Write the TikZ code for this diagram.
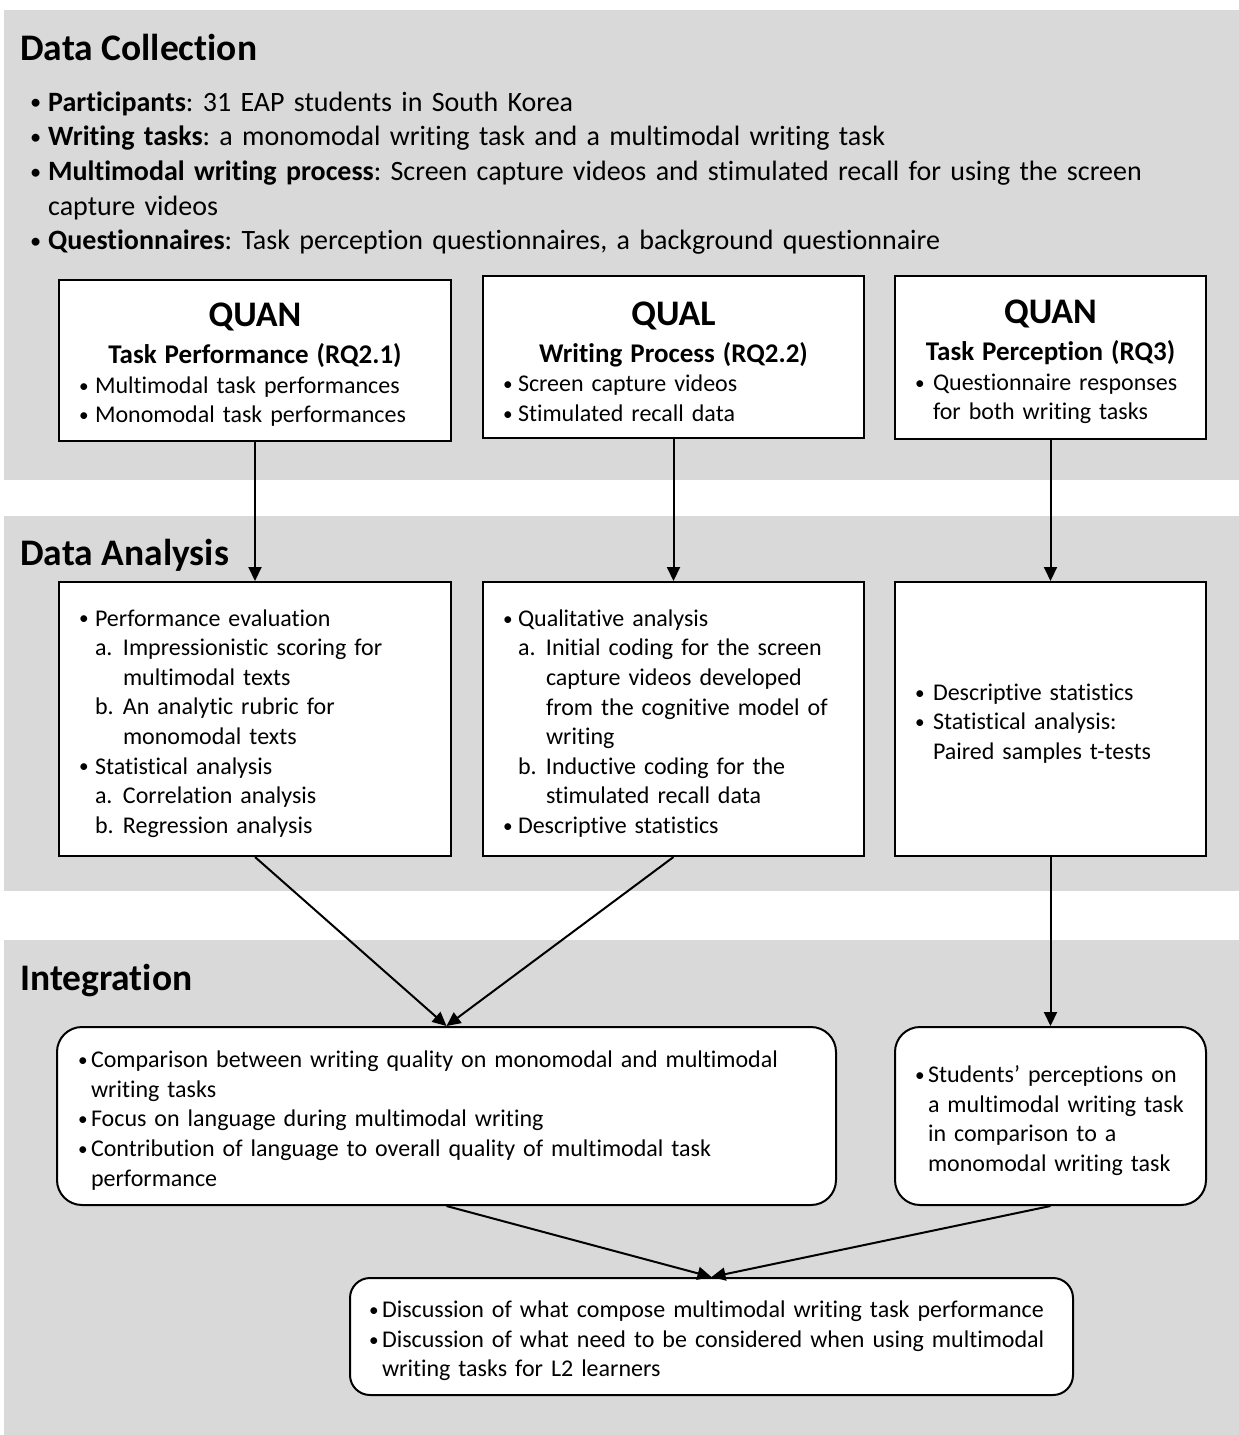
\documentclass[tikz,border=0pt]{standalone}
\usepackage{fontspec}
\usepackage{graphicx}
\setmainfont{Carlito}[Ligatures=NoCommon]
\usetikzlibrary{arrows.meta}
\definecolor{bandgray}{RGB}{217,217,217}
\setlength\parskip{0pt}
\setlength\parindent{0pt}
\frenchspacing
\newcommand\mydot{\raisebox{0.05em}{\scalebox{0.8}{\textbullet}}}
\newcommand\mybul[2]{\hangindent=#1\hangafter=1\noindent\makebox[#1][l]{\mydot}#2\par}
\newcommand\mysub[4]{\hangindent=#2\hangafter=1\noindent\hspace*{#1}\makebox[\dimexpr#2-#1\relax][l]{#3}#4\par}
\tikzset{
  band/.style={fill=bandgray, draw=none},
  box/.style={draw, line width=2pt, fill=white, inner xsep=20pt, inner ysep=0pt, align=left,
    font=\fontsize{24}{29.6}\selectfont, execute at end node={\par\kern-9pt}},
  rbox/.style={box, rounded corners=25pt},
  arr/.style={-{Triangle[length=14pt,width=13pt]}, line width=2pt},
  sectitle/.style={anchor=base west, inner sep=0pt, font=\fontsize{37.5}{44}\selectfont\bfseries},
}
\begin{document}
\begin{tikzpicture}[x=1pt,y=-1pt]
\useasboundingbox (0,0) rectangle (1239,1435);
\fill[white] (0,0) rectangle (1239,1435);
% bands
\fill[band] (4,10) rectangle (1239,480);
\fill[band] (4,516) rectangle (1239,891);
\fill[band] (4,940) rectangle (1239,1435);
% titles
\node[sectitle] (t1) at (20,60) {Data Collection};
\node[sectitle] (t2) at (20,565) {Data Analysis};
\node[sectitle] (t3) at (20,990) {Integration};
% data collection list
\node[anchor=base west, inner sep=0pt, text width=1200pt, align=left,
  font=\fontsize{28}{34.7}\selectfont] (dc) at (30,111) {%
\mybul{18pt}{\textbf{Participants}: 31 EAP students in South Korea}%
\mybul{18pt}{\textbf{Writing tasks}: a monomodal writing task and a multimodal writing task}%
\mybul{18pt}{\textbf{Multimodal writing process}: Screen capture videos and stimulated recall for using the screen\newline capture videos}%
\mybul{18pt}{\textbf{Questionnaires}: Task perception questionnaires, a background questionnaire}};
% row A
\node[box, minimum width=392pt, minimum height=161pt, text width=352pt] (a1) at (255,360.5) {%
{\centering\fontsize{36}{36}\selectfont\bfseries QUAN\par}%
{\centering\fontsize{27}{37}\selectfont\bfseries Task Performance (RQ2.1)\par}%
\mybul{16pt}{Multimodal task performances}%
\mybul{16pt}{Monomodal task performances}};
\node[box, minimum width=381pt, minimum height=162pt, text width=341pt] (a2) at (673.5,357) {%
{\centering\fontsize{36}{36}\selectfont\bfseries QUAL\par}%
{\centering\fontsize{27}{37}\selectfont\bfseries Writing Process (RQ2.2)\par}%
\mybul{15pt}{Screen capture videos}%
\mybul{15pt}{Stimulated recall data}};
\node[box, minimum width=311pt, minimum height=163pt, text width=271pt] (a3) at (1050.5,357.5) {%
{\centering\fontsize{36}{36}\selectfont\bfseries QUAN\par}%
{\centering\fontsize{27}{37}\selectfont\bfseries Task Perception (RQ3)\par}%
\mybul{18pt}{Questionnaire responses\newline for both writing tasks}};
% row B
\node[box, minimum width=392pt, minimum height=274pt, text width=352pt] (b1) at (255,719) {%
\mybul{16pt}{Performance evaluation}%
\mysub{16pt}{44pt}{a.}{Impressionistic scoring for\newline multimodal texts}%
\mysub{16pt}{44pt}{b.}{An analytic rubric for\newline monomodal texts}%
\mybul{16pt}{Statistical analysis}%
\mysub{16pt}{44pt}{a.}{Correlation analysis}%
\mysub{16pt}{44pt}{b.}{Regression analysis}};
\node[box, minimum width=381pt, minimum height=274pt, text width=341pt] (b2) at (673.5,719) {%
\mybul{15pt}{Qualitative analysis}%
\mysub{15pt}{43pt}{a.}{Initial coding for the screen\newline capture videos developed\newline from the cognitive model of\newline writing}%
\mysub{15pt}{43pt}{b.}{Inductive coding for the\newline stimulated recall data}%
\mybul{15pt}{Descriptive statistics}};
\node[box, minimum width=311pt, minimum height=274pt, text width=271pt] (b3) at (1050.5,719) {%
\mybul{18pt}{Descriptive statistics}%
\mybul{18pt}{Statistical analysis:\newline Paired samples t-tests}};
% row C
\node[rbox, minimum width=779pt, minimum height=178pt, text width=737pt, inner xsep=21pt] (c1) at (446.5,1116) {%
\mybul{13pt}{Comparison between writing quality on monomodal and multimodal\newline writing tasks}%
\mybul{13pt}{Focus on language during multimodal writing}%
\mybul{13pt}{Contribution of language to overall quality of multimodal task\newline performance}};
\node[rbox, minimum width=311pt, minimum height=178pt, text width=271pt] (c2) at (1050.5,1116) {%
\mybul{13pt}{Students’ perceptions on\newline a multimodal writing task\newline in comparison to a\newline monomodal writing task}};
% row D
\node[box, rounded corners=20pt, minimum width=723pt, minimum height=117pt, text width=685pt, inner xsep=19pt] (d) at (711.5,1336.5) {%
\mybul{13pt}{Discussion of what compose multimodal writing task performance}%
\mybul{13pt}{Discussion of what need to be considered when using multimodal\newline writing tasks for L2 learners}};
% connectors
\draw[arr] (a1.south) -- (b1.north);
\draw[arr] (a2.south) -- (b2.north);
\draw[arr] (a3.south) -- (b3.north);
\draw[arr] (b1.south) -- (c1.north);
\draw[arr] (b2.south) -- (c1.north);
\draw[arr] (b3.south) -- (c2.north);
\draw[arr] (c1.south) -- (d.north);
\draw[arr] (c2.south) -- (d.north);
\end{tikzpicture}
\end{document}
